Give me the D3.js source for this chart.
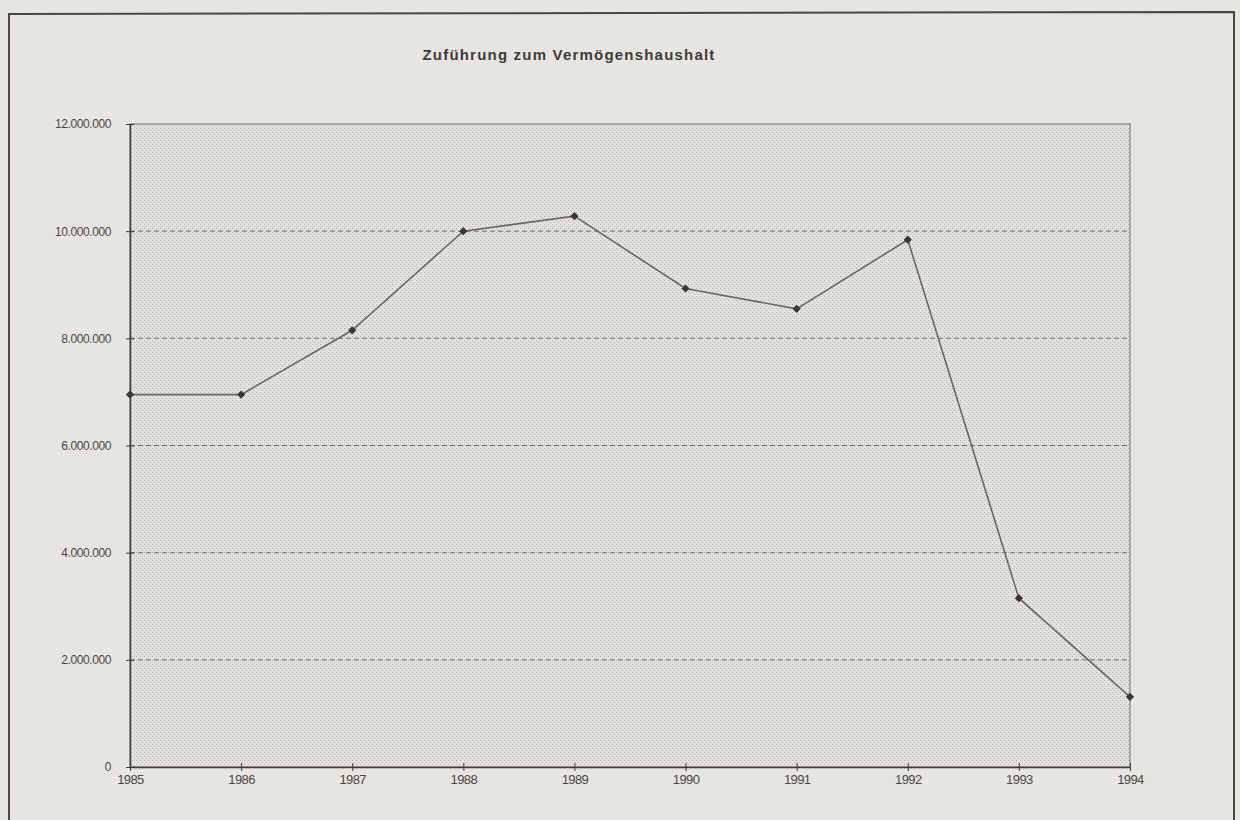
<!DOCTYPE html>
<html>
<head>
<meta charset="utf-8">
<script src="https://cdn.jsdelivr.net/npm/d3@7"></script>
<style>
  body { margin: 0; background: #e7e5e2; }
  svg { display: block; }
</style>
</head>
<body>
<script>
const years = [1985, 1986, 1987, 1988, 1989, 1990, 1991, 1992, 1993, 1994]
const values = [6950000, 6950000, 8150000, 10000000, 10280000, 8930000, 8550000, 9840000, 3150000, 1310000]
const yTicks = [0, 2000000, 4000000, 6000000, 8000000, 10000000, 12000000]
const title = 'Zuführung zum Vermögenshaushalt'

const config = {
  width: 1240,
  height: 820,
  left: 130,
  right: 1130,
  top: 124,
  bottom: 767
}

const svg = d3.select('body').append('svg')
  .attr('width', config.width)
  .attr('height', config.height)

// stipple pattern for plot area
const defs = svg.append('defs')
const pat = defs.append('pattern')
  .attr('id', 'dots')
  .attr('width', 4).attr('height', 4)
  .attr('patternUnits', 'userSpaceOnUse')
pat.append('rect').attr('width', 4).attr('height', 4).attr('fill', '#e3e1de')
pat.append('rect').attr('x', 0).attr('y', 0).attr('width', 1).attr('height', 1).attr('fill', '#b0aeab')
pat.append('rect').attr('x', 2).attr('y', 2).attr('width', 1).attr('height', 1).attr('fill', '#bbb9b6')

// outer frame
svg.append('path')
  .attr('d', 'M9,830 L9,14 L1234,12 L1234,830')
  .attr('fill', 'none')
  .attr('stroke', '#4a4644')
  .attr('stroke-width', 2)

const x = d3.scalePoint().domain(years).range([config.left, config.right])
const y = d3.scaleLinear().domain([0, 12000000]).range([config.bottom, config.top])

svg.append('rect')
  .attr('x', config.left).attr('y', config.top)
  .attr('width', config.right - config.left)
  .attr('height', config.bottom - config.top)
  .attr('fill', 'url(#dots)')
  .attr('stroke', '#6e6a67')
  .attr('stroke-width', 1)

svg.append('text')
  .attr('x', 569).attr('y', 60)
  .attr('text-anchor', 'middle')
  .attr('font-family', 'Liberation Sans, Arial, sans-serif')
  .attr('font-weight', 'bold')
  .attr('font-size', 15)
  .attr('letter-spacing', 1.2)
  .attr('fill', '#3e3a38')
  .text(title)

// gridlines
svg.append('g').selectAll('line')
  .data(yTicks.filter(t => t > 0 && t < 12000000))
  .enter().append('line')
  .attr('x1', config.left).attr('x2', config.right)
  .attr('y1', d => y(d)).attr('y2', d => y(d))
  .attr('stroke', '#6f6b68')
  .attr('stroke-width', 1)
  .attr('stroke-dasharray', '5,3')

const fmt = d => d3.format(',')(d).replace(/,/g, '.')

const yAxis = svg.append('g')
  .attr('transform', `translate(${config.left},0)`)
  .call(d3.axisLeft(y).tickValues(yTicks).tickFormat(fmt).tickSizeInner(4).tickSizeOuter(0).tickPadding(15))
yAxis.selectAll('.tick line').attr('x2', 4).attr('x1', -4)

const xAxis = svg.append('g')
  .attr('transform', `translate(0,${config.bottom})`)
  .call(d3.axisBottom(x).tickSizeInner(4).tickSizeOuter(0).tickPadding(4))
xAxis.selectAll('.tick line').attr('y1', -4).attr('y2', 4)

svg.selectAll('.domain').attr('stroke', '#3e3a38').attr('stroke-width', 1.5)
svg.selectAll('.tick line').attr('stroke', '#3e3a38')
svg.selectAll('.tick text')
  .attr('font-family', 'Liberation Sans, Arial, sans-serif')
  .attr('font-size', 12)
  .attr('fill', '#4a4644')
  .attr('letter-spacing', -0.4)
xAxis.selectAll('.tick text').attr('font-size', 13).attr('letter-spacing', -0.6)

const line = d3.line().x((d, i) => x(years[i])).y(d => y(d))
svg.append('path')
  .datum(values)
  .attr('d', line)
  .attr('fill', 'none')
  .attr('stroke', '#6a6664')
  .attr('stroke-width', 1.6)

svg.append('g').selectAll('path')
  .data(values)
  .enter().append('path')
  .attr('d', d3.symbol().type(d3.symbolSquare).size(34))
  .attr('transform', (d, i) => `translate(${x(years[i])},${y(d)}) rotate(45)`)
  .attr('fill', '#3a3634')
</script>
</body>
</html>
